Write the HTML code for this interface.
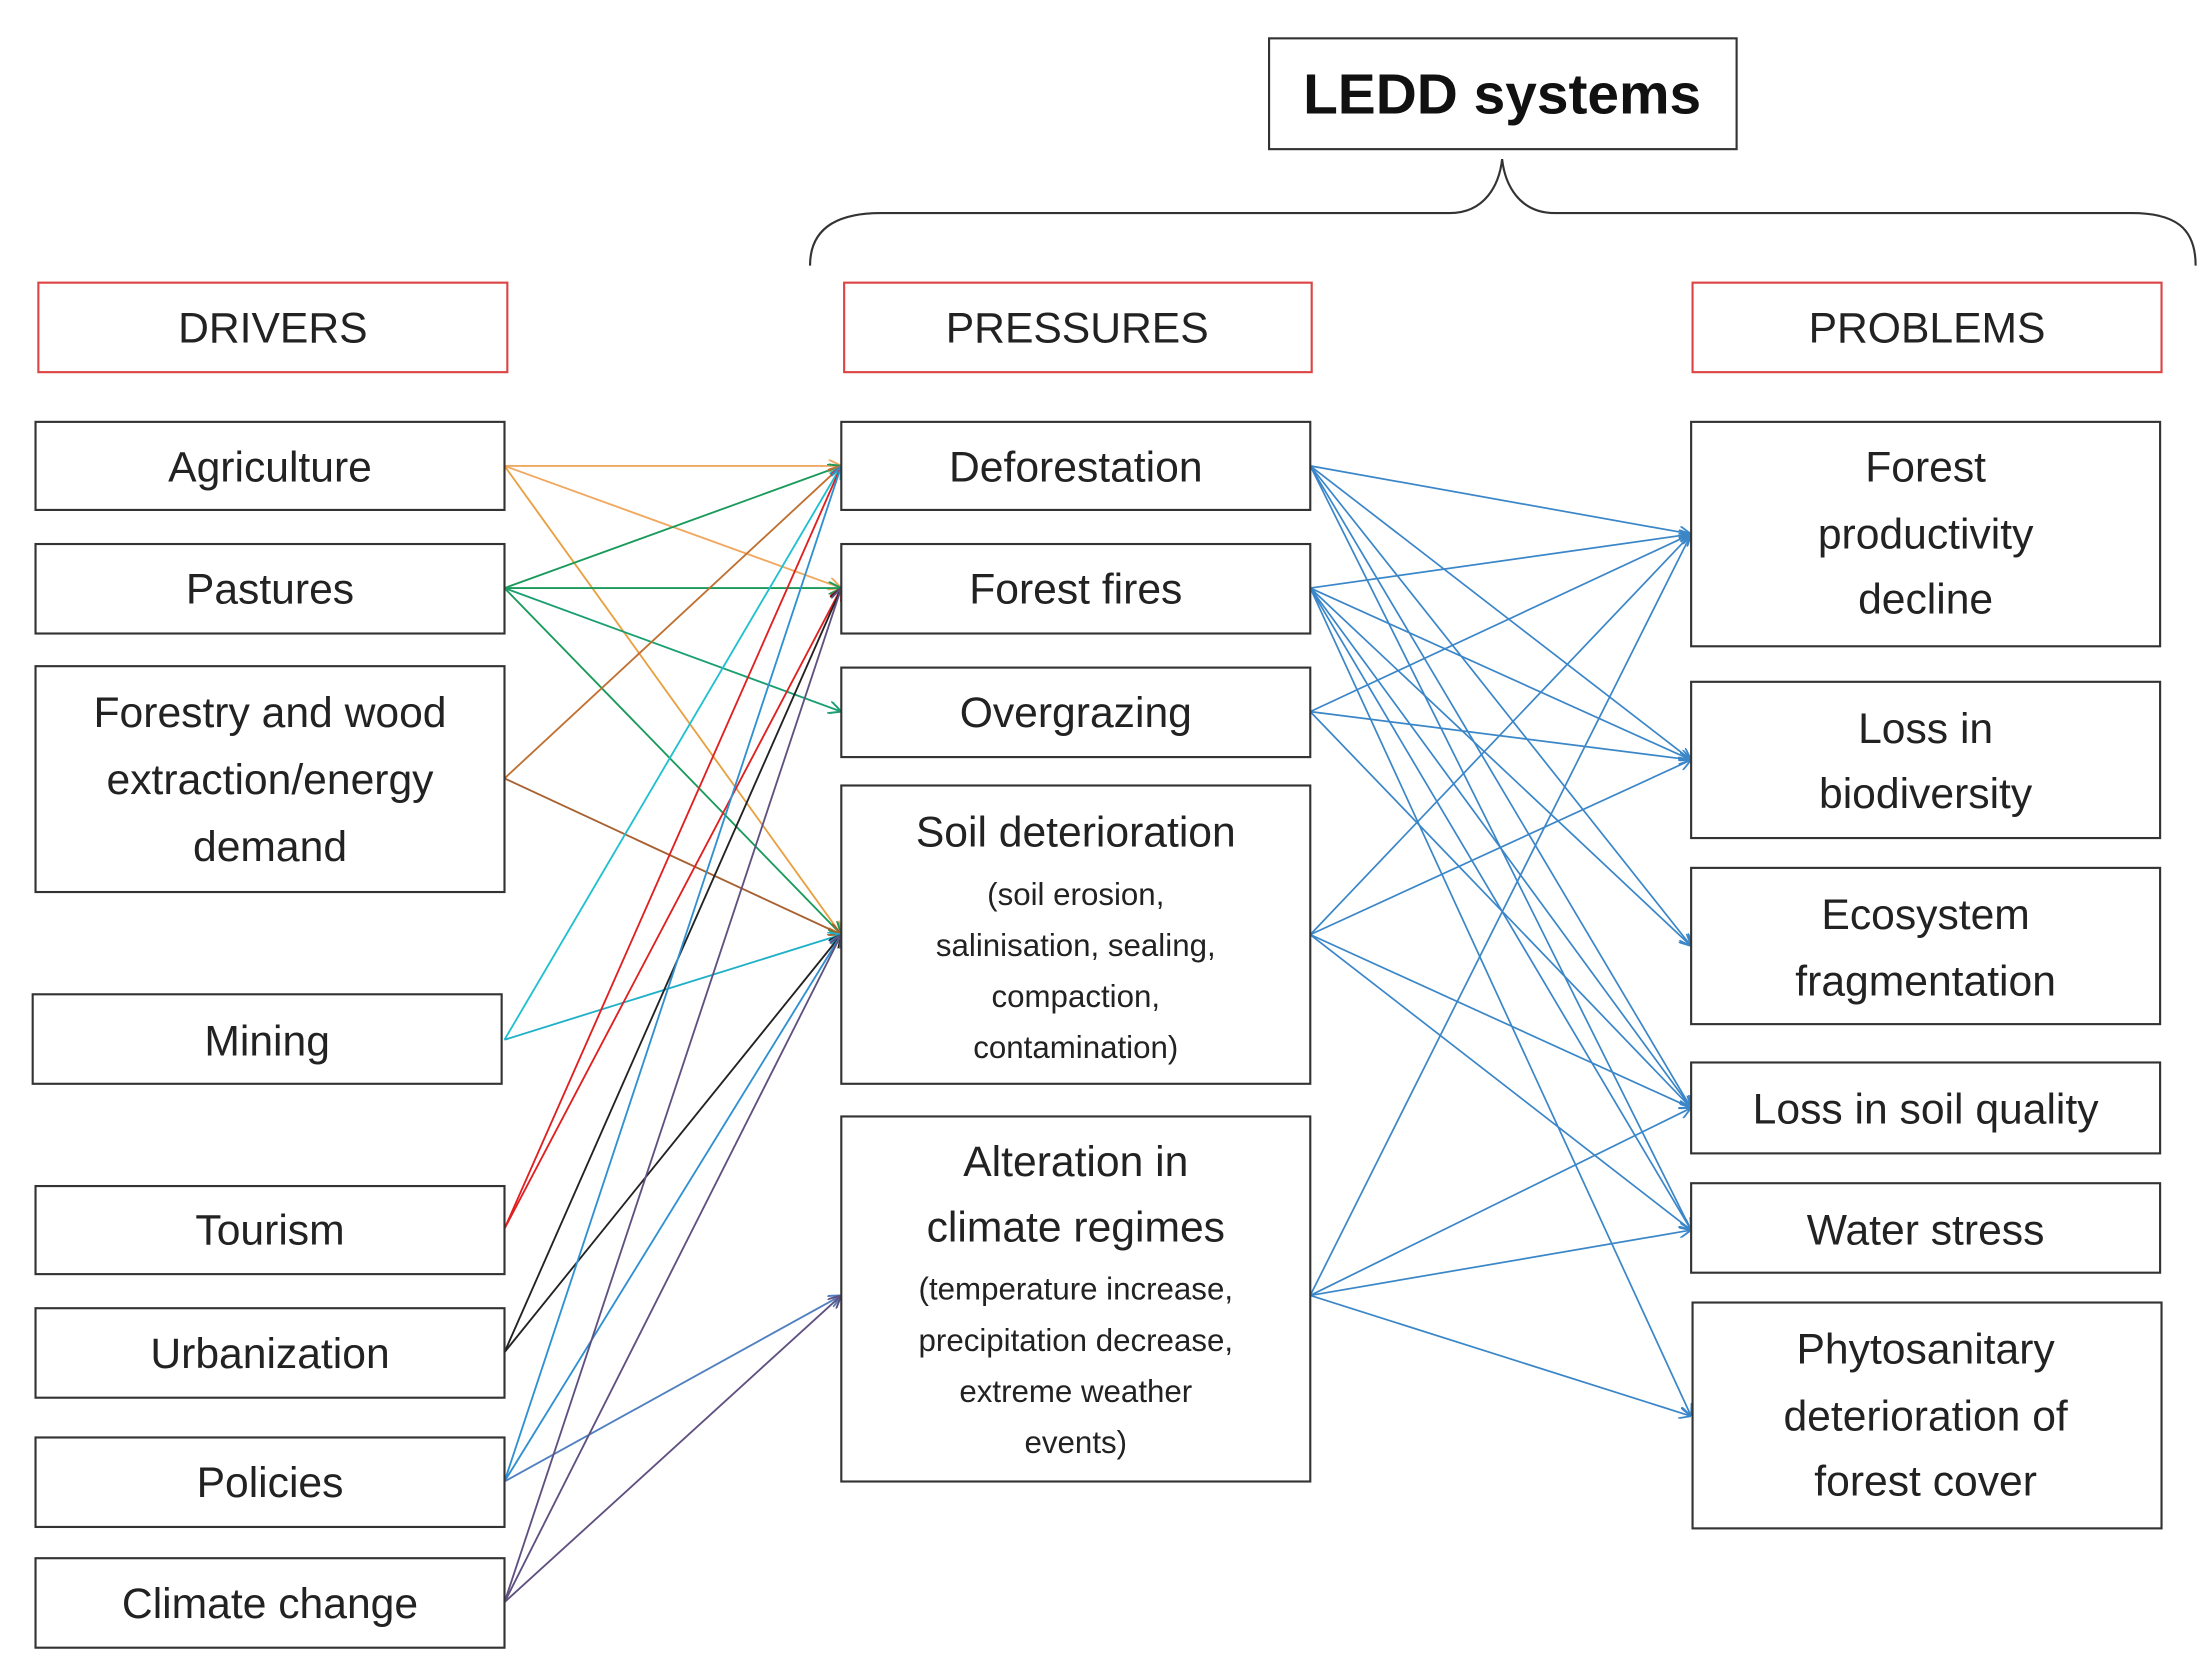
<!DOCTYPE html>
<html><head><meta charset="utf-8"><style>html,body{margin:0;padding:0;background:#fff}svg{display:block}</style></head>
<body>
<svg width="2207" height="1669" viewBox="0 0 1553 1175" preserveAspectRatio="none" xmlns="http://www.w3.org/2000/svg" font-family="Liberation Sans, sans-serif">
<defs>
<marker id="a" viewBox="0 0 10 10" refX="10" refY="5" markerWidth="7" markerHeight="7" orient="auto"><path d="M0,0 L10,5 L0,10" fill="none" stroke="context-stroke" stroke-width="1.5"/></marker>
</defs>
<rect width="1553" height="1175" fill="#fff"/>
<!-- LEDD -->
<rect x="893" y="27" width="329" height="78" fill="#fff" stroke="#333" stroke-width="1.5"/>
<text x="1057" y="80" font-size="40" font-weight="bold" text-anchor="middle" fill="#111">LEDD systems</text>
<path d="M570,187 C570,160 590,150 620,150 L1020,150 C1045,150 1055,130 1057,112 C1059,130 1069,150 1094,150 L1500,150 C1530,150 1545,160 1545,187" fill="none" stroke="#333" stroke-width="1.5"/>
<!-- headers -->
<g fill="#fff" stroke="#d44" stroke-width="1.5">
<rect x="27" y="199" width="330" height="63"/><rect x="594" y="199" width="329" height="63"/><rect x="1191" y="199" width="330" height="63"/></g>
<g font-size="30" text-anchor="middle" fill="#222">
<text x="192" y="241">DRIVERS</text><text x="758" y="241">PRESSURES</text><text x="1356" y="241">PROBLEMS</text></g>
<!-- lines left -->
<g fill="none" stroke-width="1.3" marker-end="url(#a)">
<line x1="355" y1="328" x2="592" y2="328" stroke="#f0a860"/>
<line x1="355" y1="328" x2="592" y2="414" stroke="#f0a860"/>
<line x1="355" y1="328" x2="592" y2="658" stroke="#e8a040"/>
<line x1="355" y1="414" x2="592" y2="328" stroke="#1a9a5a"/>
<line x1="355" y1="414" x2="592" y2="414" stroke="#1a9a5a"/>
<line x1="355" y1="414" x2="592" y2="501" stroke="#1aa070"/>
<line x1="355" y1="414" x2="592" y2="658" stroke="#1a9a5a"/>
<line x1="355" y1="548" x2="592" y2="328" stroke="#c07030"/>
<line x1="355" y1="548" x2="592" y2="658" stroke="#a86030"/>
<line x1="355" y1="732" x2="592" y2="328" stroke="#20c0d0"/>
<line x1="355" y1="732" x2="592" y2="658" stroke="#20b0c8"/>
<line x1="355" y1="865" x2="592" y2="328" stroke="#e02020"/>
<line x1="355" y1="865" x2="592" y2="414" stroke="#e02020"/>
<line x1="355" y1="952" x2="592" y2="414" stroke="#222"/>
<line x1="355" y1="952" x2="592" y2="658" stroke="#222"/>
<line x1="355" y1="1043" x2="592" y2="328" stroke="#3090d0"/>
<line x1="355" y1="1043" x2="592" y2="658" stroke="#3090d0"/>
<line x1="355" y1="1043" x2="592" y2="912" stroke="#5080c0"/>
<line x1="355" y1="1128" x2="592" y2="414" stroke="#605080"/>
<line x1="355" y1="1128" x2="592" y2="658" stroke="#605080"/>
<line x1="355" y1="1128" x2="592" y2="912" stroke="#605080"/>
</g>
<!-- lines right -->
<g fill="none" stroke="#3a86c8" stroke-width="1.2" marker-end="url(#a)">
<line x1="922" y1="328" x2="1190" y2="376"/><line x1="922" y1="328" x2="1190" y2="535"/><line x1="922" y1="328" x2="1190" y2="666"/><line x1="922" y1="328" x2="1190" y2="780"/><line x1="922" y1="328" x2="1190" y2="866"/>
<line x1="922" y1="414" x2="1190" y2="376"/><line x1="922" y1="414" x2="1190" y2="535"/><line x1="922" y1="414" x2="1190" y2="666"/><line x1="922" y1="414" x2="1190" y2="780"/><line x1="922" y1="414" x2="1190" y2="866"/><line x1="922" y1="414" x2="1190" y2="997"/>
<line x1="922" y1="501" x2="1190" y2="376"/><line x1="922" y1="501" x2="1190" y2="535"/><line x1="922" y1="501" x2="1190" y2="780"/>
<line x1="922" y1="658" x2="1190" y2="376"/><line x1="922" y1="658" x2="1190" y2="535"/><line x1="922" y1="658" x2="1190" y2="780"/><line x1="922" y1="658" x2="1190" y2="866"/>
<line x1="922" y1="912" x2="1190" y2="376"/><line x1="922" y1="912" x2="1190" y2="780"/><line x1="922" y1="912" x2="1190" y2="866"/><line x1="922" y1="912" x2="1190" y2="997"/>
</g>
<!-- boxes -->
<g fill="#fff" stroke="#333" stroke-width="1.5">
<rect x="25" y="297" width="330" height="62"/><rect x="25" y="383" width="330" height="63"/><rect x="25" y="469" width="330" height="159"/><rect x="23" y="700" width="330" height="63"/><rect x="25" y="835" width="330" height="62"/><rect x="25" y="921" width="330" height="63"/><rect x="25" y="1012" width="330" height="63"/><rect x="25" y="1097" width="330" height="63"/>
<rect x="592" y="297" width="330" height="62"/><rect x="592" y="383" width="330" height="63"/><rect x="592" y="470" width="330" height="63"/><rect x="592" y="553" width="330" height="210"/><rect x="592" y="786" width="330" height="257"/>
<rect x="1190" y="297" width="330" height="158"/><rect x="1190" y="480" width="330" height="110"/><rect x="1190" y="611" width="330" height="110"/><rect x="1190" y="748" width="330" height="64"/><rect x="1190" y="833" width="330" height="63"/><rect x="1191" y="917" width="330" height="159"/>
</g>
<g font-size="30" text-anchor="middle" fill="#222">
<text x="190" y="339">Agriculture</text><text x="190" y="425">Pastures</text>
<text x="190" y="512">Forestry and wood</text><text x="190" y="559">extraction/energy</text><text x="190" y="606">demand</text>
<text x="188" y="743">Mining</text><text x="190" y="876">Tourism</text><text x="190" y="963">Urbanization</text><text x="190" y="1054">Policies</text><text x="190" y="1139">Climate change</text>
<text x="757" y="339">Deforestation</text><text x="757" y="425">Forest fires</text><text x="757" y="512">Overgrazing</text>
<text x="757" y="596">Soil deterioration</text>
<text x="757" y="828">Alteration in</text><text x="757" y="874">climate regimes</text>
<text x="1355" y="339">Forest</text><text x="1355" y="386">productivity</text><text x="1355" y="432">decline</text>
<text x="1355" y="523">Loss in</text><text x="1355" y="569">biodiversity</text>
<text x="1355" y="654">Ecosystem</text><text x="1355" y="701">fragmentation</text>
<text x="1355" y="791">Loss in soil quality</text><text x="1355" y="876">Water stress</text>
<text x="1355" y="960">Phytosanitary</text><text x="1355" y="1007">deterioration of</text><text x="1355" y="1053">forest cover</text>
</g>
<g font-size="22" text-anchor="middle" fill="#222">
<text x="757" y="637">(soil erosion,</text><text x="757" y="673">salinisation, sealing,</text><text x="757" y="709">compaction,</text><text x="757" y="745">contamination)</text>
<text x="757" y="915">(temperature increase,</text><text x="757" y="951">precipitation decrease,</text><text x="757" y="987">extreme weather</text><text x="757" y="1023">events)</text>
</g>
</svg>
</body></html>
